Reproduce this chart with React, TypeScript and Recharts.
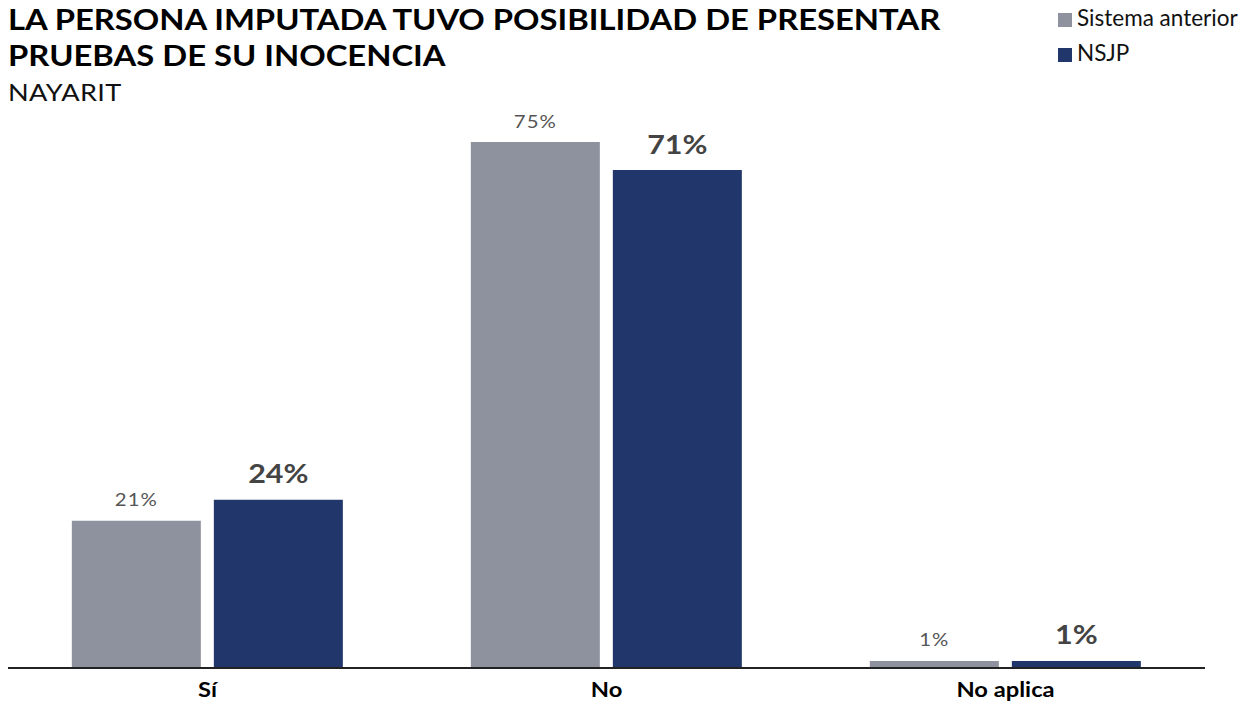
import React from "react";
import { BarChart, Bar, XAxis, YAxis, LabelList } from "recharts";

const categories = ["Sí", "No", "No aplica"];
const sistemaAnterior = [21, 75, 1];
const nsjp = [24, 71, 1];

const GRAY = "#8e929e";
const NAVY = "#21366b";
// text in this layout is set slightly wide
const STRETCH = 1.13;

const data = categories.map((name, i) => ({
  name,
  anterior: sistemaAnterior[i],
  nsjp: nsjp[i],
}));

const titleLines = ["LA PERSONA IMPUTADA TUVO POSIBILIDAD DE PRESENTAR", "PRUEBAS DE SU INOCENCIA"];

const legendItems = [
  { label: "Sistema anterior", color: GRAY, top: 13 },
  { label: "NSJP", color: NAVY, top: 48 },
];

const wide: React.CSSProperties = {
  position: "absolute",
  left: 8,
  zIndex: 1,
  whiteSpace: "nowrap",
  transform: `scaleX(${STRETCH})`,
  transformOrigin: "left top",
};

function CategoryTick(props: any) {
  const { x, y, payload } = props;
  return (
    <text
      transform={`translate(${x},${y + 21}) scale(${STRETCH},1)`}
      textAnchor="middle"
      fontFamily="Lato"
      fontWeight={700}
      fontSize={21}
      fill="#000"
    >
      {payload.value}
    </text>
  );
}

function makeValueLabel(gap: number, size: number, weight: number, color: string, spacing: number) {
  return (props: any) => {
    const { x, y, width, value } = props;
    return (
      <text
        transform={`translate(${x + width / 2},${y - gap}) scale(${STRETCH},1)`}
        textAnchor="middle"
        fontFamily="Lato"
        fontWeight={weight}
        fontSize={size}
        fill={color}
        letterSpacing={spacing}
      >
        {`${value}%`}
      </text>
    );
  };
}

export default function App() {
  return (
    <div
      style={{
        position: "relative",
        width: 1259,
        height: 709,
        margin: -8,
        overflow: "hidden",
        fontFamily: "Lato",
      }}
    >
      {titleLines.map((line, i) => (
        <div
          key={line}
          style={{ ...wide, top: 8 + i * 36, fontWeight: 700, fontSize: 29, lineHeight: "22px", color: "#000" }}
        >
          {line}
        </div>
      ))}
      <div style={{ ...wide, top: 80.4, fontSize: 24, lineHeight: "24px", letterSpacing: 0.3, color: "#111" }}>
        NAYARIT
      </div>
      {legendItems.map((it) => (
        <React.Fragment key={it.label}>
          <div
            style={{
              position: "absolute",
              left: 1058,
              top: it.top,
              width: 14,
              height: 14,
              background: it.color,
            }}
          />
          <div
            style={{
              position: "absolute",
              left: 1077,
              top: it.top - 1.7,
              fontSize: 22.5,
              lineHeight: "14px",
              color: "#111",
              whiteSpace: "nowrap",
            }}
          >
            {it.label}
          </div>
        </React.Fragment>
      ))}
      <BarChart
        width={1259}
        height={709}
        data={data}
        margin={{ top: 142, right: 54, left: 8, bottom: 11 }}
        barCategoryGap="16%"
        barGap={13}
      >
        <XAxis
          dataKey="name"
          tickLine={false}
          axisLine={{ stroke: "#222", strokeWidth: 2 }}
          tick={<CategoryTick />}
          height={30}
        />
        <YAxis hide domain={[0, 75]} />
        <Bar dataKey="anterior" fill={GRAY} isAnimationActive={false}>
          <LabelList dataKey="anterior" content={makeValueLabel(14.5, 18, 400, "#555", 1)} />
        </Bar>
        <Bar dataKey="nsjp" fill={NAVY} isAnimationActive={false}>
          <LabelList dataKey="nsjp" content={makeValueLabel(16.5, 27, 700, "#444", 0)} />
        </Bar>
      </BarChart>
    </div>
  );
}
